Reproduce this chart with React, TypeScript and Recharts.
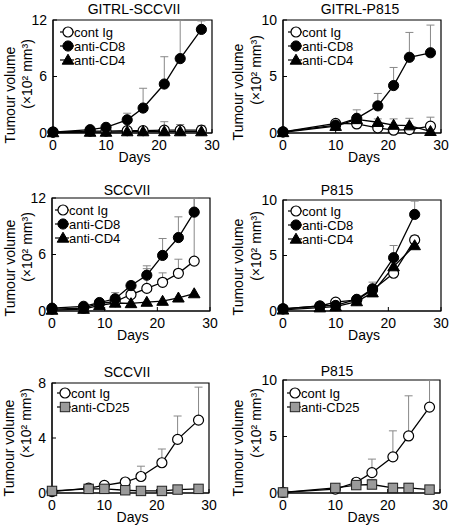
import { LineChart, Line, XAxis, YAxis, ErrorBar, ReferenceArea, Legend } from 'recharts';

const FONT = '"Liberation Sans", Arial, Helvetica, sans-serif';

// GITRL-SCCVII
const daysA = [0, 7, 10, 14, 17, 21, 24, 28];
const contA = [0.1, 0.2, 0.2, 0.25, 0.25, 0.3, 0.3, 0.3];
const contAErr = [0, 0, 0, 0, 0.2, 0.9, 0.6, 0.5];
const cd8A = [0.1, 0.35, 0.6, 1.4, 2.65, 5.2, 7.9, 11.0];
const cd8AErr = [0, 0, 0, 0.7, 2.1, 2.9, 4.1, 0.9];
const cd4A = [0.05, 0.1, 0.1, 0.15, 0.15, 0.15, 0.15, 0.15];
const cd4AErr = [0, 0, 0, 0, 0, 0.3, 0.3, 0.3];

// GITRL-P815
const daysB = [0, 10, 14, 18, 21, 24, 28];
const contB = [0.1, 0.85, 0.8, 0.45, 0.25, 0.3, 0.6];
const contBErr = [0, 0, 0, 0, 0, 0, 0.8];
const cd8B = [0.1, 0.7, 1.3, 2.4, 4.2, 6.7, 7.1];
const cd8BErr = [0, 0, 0.75, 1.1, 1.6, 2.2, 2.45];
const cd4B = [0.05, 0.6, 1.2, 0.95, 0.7, 0.65, 0.15];
const cd4BErr = [0, 0, 0, 0.3, 0.55, 0.65, 0];

// SCCVII (CD8 / CD4)
const daysC = [0, 6, 9, 12, 15, 18, 21, 24, 27];
const contC = [0.2, 0.3, 0.8, 1.0, 1.75, 2.4, 3.05, 4.0, 5.3];
const contCErr = [0, 0, 0, 0, 0.3, 2.1, 1.0, 1.5, 6.7];
const cd8C = [0.3, 0.5, 0.9, 1.3, 2.7, 3.8, 5.9, 7.8, 10.5];
const cd8CErr = [0, 0, 0, 0.65, 0.4, 1.0, 1.8, 2.2, 1.5];
const cd4C = [0.1, 0.2, 0.6, 0.85, 0.8, 0.95, 1.05, 1.4, 1.85];
const cd4CErr = [0, 0, 0, 0, 0, 0, 0, 0, 0];

// P815 (CD8 / CD4)
const daysD = [0, 7, 10, 14, 17, 21, 25];
const contD = [0.2, 0.45, 0.8, 1.0, 1.9, 3.4, 6.4];
const contDErr = [0, 0, 0, 0, 0.3, 0.3, 0.4];
const cd8D = [0.2, 0.45, 0.5, 1.05, 2.0, 4.8, 8.7];
const cd8DErr = [0, 0, 0, 0.2, 0.6, 1.1, 1.2];
const cd4D = [0.1, 0.3, 0.4, 0.85, 1.65, 4.0, 5.9];
const cd4DErr = [0, 0, 0, 0, 0, 0, 0];

// SCCVII (CD25)
const daysE = [0, 7, 10, 14, 17, 21, 24, 28];
const contE = [0.1, 0.35, 0.55, 0.8, 1.2, 2.2, 3.9, 5.3];
const contEErr = [0, 0, 0, 0.25, 0.75, 1.0, 1.7, 2.4];
const cd25E = [0.15, 0.3, 0.3, 0.2, 0.15, 0.15, 0.25, 0.3];
const cd25EErr = [0, 0.1, 0.1, 0.1, 0.1, 0.1, 0.2, 0.2];

// P815 (CD25)
const daysF = [0, 10, 14, 17, 21, 24, 28];
const contF = [0.05, 0.35, 0.95, 1.8, 3.2, 5.05, 7.6];
const contFErr = [0, 0, 0, 1.2, 2.3, 3.55, 2.4];
const cd25F = [0.05, 0.45, 0.7, 0.75, 0.45, 0.45, 0.3];
const cd25FErr = [0, 0, 0.2, 0.45, 0.4, 0.4, 0];

const xTicks = [0, 10, 20, 30];

type Marker = 'open' | 'filled' | 'triangle' | 'square';

const drawMarker = (m: Marker, cx: number, cy: number, key?: any) => {
  if (m === 'open') return <circle key={key} cx={cx} cy={cy} r={5} fill="#fff" stroke="#000" strokeWidth={1.2} />;
  if (m === 'filled') return <circle key={key} cx={cx} cy={cy} r={5.1} fill="#000" stroke="#000" />;
  if (m === 'triangle')
    return <polygon key={key} points={`${cx},${cy - 5.8} ${cx - 5.8},${cy + 4.2} ${cx + 5.8},${cy + 4.2}`} fill="#000" stroke="#000" />;
  return <rect key={key} x={cx - 4.7} y={cy - 4.7} width={9.4} height={9.4} fill="#9a9a9a" stroke="#222" strokeWidth={1} />;
};

const dotFor = (m: Marker) => (p: any) => {
  if (p.cx == null || p.cy == null) return <g key={p.key} />;
  return drawMarker(m, p.cx, p.cy, p.key);
};

function rows(days: number[], series: { key: string; v: number[]; e: number[] }[]) {
  return days.map((d, i) => {
    const r: any = { day: d };
    series.forEach((s) => {
      r[s.key] = s.v[i];
      r[s.key + 'Err'] = s.e[i] ? [0, s.e[i]] : null;
    });
    return r;
  });
}

const S_CONT = { key: 'cont', name: 'cont Ig', marker: 'open' as Marker };
const S_CD8 = { key: 'cd8', name: 'anti-CD8', marker: 'filled' as Marker };
const S_CD4 = { key: 'cd4', name: 'anti-CD4', marker: 'triangle' as Marker };
const S_CD25 = { key: 'cd25', name: 'anti-CD25', marker: 'square' as Marker };

const panels = [
  {
    title: 'GITRL-SCCVII', cell: [0, 0, 225, 175], plot: [53, 212, 20, 133], yMax: 12, yTicks: [0, 6, 12],
    titlePos: [134, 9], lab1: [10, 95], lab2: [27, 74], legend: [60, 25],
    series: [S_CONT, S_CD8, S_CD4],
    data: rows(daysA, [{ key: 'cont', v: contA, e: contAErr }, { key: 'cd8', v: cd8A, e: cd8AErr }, { key: 'cd4', v: cd4A, e: cd4AErr }]),
  },
  {
    title: 'GITRL-P815', cell: [225, 0, 225, 175], plot: [283, 441, 20, 133], yMax: 10, yTicks: [0, 5, 10],
    titlePos: [360, 9], lab1: [238, 92], lab2: [256, 70], legend: [288, 25],
    series: [S_CONT, S_CD8, S_CD4],
    data: rows(daysB, [{ key: 'cont', v: contB, e: contBErr }, { key: 'cd8', v: cd8B, e: cd8BErr }, { key: 'cd4', v: cd4B, e: cd4BErr }]),
  },
  {
    title: 'SCCVII', cell: [0, 175, 225, 175], plot: [52, 210, 198, 311], yMax: 12, yTicks: [0, 6, 12],
    titlePos: [127, 190], lab1: [10, 268], lab2: [27, 247], legend: [55, 203],
    series: [S_CONT, S_CD8, S_CD4],
    data: rows(daysC, [{ key: 'cont', v: contC, e: contCErr }, { key: 'cd8', v: cd8C, e: cd8CErr }, { key: 'cd4', v: cd4C, e: cd4CErr }]),
  },
  {
    title: 'P815', cell: [225, 175, 225, 175], plot: [283, 441, 200, 311], yMax: 10, yTicks: [0, 5, 10],
    titlePos: [337, 190], lab1: [238, 267], lab2: [256, 246], legend: [288, 204],
    series: [S_CONT, S_CD8, S_CD4],
    data: rows(daysD, [{ key: 'cont', v: contD, e: contDErr }, { key: 'cd8', v: cd8D, e: cd8DErr }, { key: 'cd4', v: cd4D, e: cd4DErr }]),
  },
  {
    title: 'SCCVII', cell: [0, 350, 225, 178], plot: [52, 209, 383, 493], yMax: 8, yTicks: [0, 4, 8],
    titlePos: [127, 372], lab1: [9, 448], lab2: [26, 423], legend: [57, 386],
    series: [S_CONT, S_CD25],
    data: rows(daysE, [{ key: 'cont', v: contE, e: contEErr }, { key: 'cd25', v: cd25E, e: cd25EErr }]),
  },
  {
    title: 'P815', cell: [225, 350, 225, 178], plot: [283, 440, 380, 493], yMax: 10, yTicks: [0, 5, 10],
    titlePos: [337, 371], lab1: [238, 448], lab2: [256, 423], legend: [287, 386],
    series: [S_CONT, S_CD25],
    data: rows(daysF, [{ key: 'cont', v: contF, e: contFErr }, { key: 'cd25', v: cd25F, e: cd25FErr }]),
  },
];

function Panel({ cfg }: { cfg: any }) {
  const [cx, cy, w, h] = cfg.cell;
  const [L, R, T, B] = cfg.plot;
  const tickStyle = { fill: '#000', fontSize: 14, fontFamily: FONT };

  const yLabel = () => (
    <g fontFamily={FONT} fontSize={14} fill="#000">
      <text x={cfg.lab1[0] - cx} y={cfg.lab1[1] - cy} dy="0.35em" textAnchor="middle"
        transform={`rotate(-90, ${cfg.lab1[0] - cx}, ${cfg.lab1[1] - cy})`}>Tumour volume</text>
      <text x={cfg.lab2[0] - cx} y={cfg.lab2[1] - cy} dy="0.35em" textAnchor="middle"
        transform={`rotate(-90, ${cfg.lab2[0] - cx}, ${cfg.lab2[1] - cy})`}>(×10² mm³)</text>
    </g>
  );

  const xLabel = (p: any) => {
    const vb = p.viewBox || {};
    return (
      <text x={vb.x + vb.width / 2 + 2} y={vb.y + 24} dy="0.35em" textAnchor="middle"
        fontFamily={FONT} fontSize={14} fill="#000">Days</text>
    );
  };

  const legend = () => (
    <div style={{ fontFamily: FONT, fontSize: 13, color: '#000' }}>
      {cfg.series.map((s: any) => (
        <div key={s.key} style={{ display: 'flex', alignItems: 'center', height: 14, whiteSpace: 'nowrap' }}>
          <svg width={14} height={14} style={{ display: 'block' }}>
            <line x1={0} y1={7} x2={14} y2={7} stroke="#000" strokeWidth={1.2} />
            {drawMarker(s.marker, 8, 7)}
          </svg>
          <span>{s.name}</span>
        </div>
      ))}
    </div>
  );

  return (
    <div style={{ position: 'absolute', left: cx, top: cy, width: w, height: h }}>
      <div style={{
        position: 'absolute', left: cfg.titlePos[0] - cx, top: cfg.titlePos[1] - cy,
        transform: 'translate(-50%, -50%)', fontFamily: FONT, fontSize: 14, whiteSpace: 'nowrap', zIndex: 2,
      }}>{cfg.title}</div>
      <LineChart width={w} height={h} data={cfg.data}
        margin={{ top: T - cy, right: cx + w - R, left: 0, bottom: 0 }}>
        <XAxis type="number" dataKey="day" domain={[0, 30]} ticks={xTicks}
          height={cy + h - B} tickSize={-4} tickMargin={11} tick={tickStyle} stroke="#000"
          label={xLabel} />
        <YAxis type="number" domain={[0, cfg.yMax]} ticks={cfg.yTicks}
          width={L - cx} tickSize={-4} tickMargin={10} tick={tickStyle} stroke="#000"
          label={yLabel} />
        <ReferenceArea x1={0} x2={30} y1={0} y2={cfg.yMax} fill="none" stroke="#000" strokeWidth={1.2} />
        {cfg.series.map((s: any) => (
          <Line key={s.key} type="linear" dataKey={s.key} stroke="#000" strokeWidth={1.3}
            dot={dotFor(s.marker)} activeDot={false} isAnimationActive={false}>
            <ErrorBar dataKey={s.key + 'Err'} direction="y" width={4} stroke="#888" strokeWidth={1} />
          </Line>
        ))}
        <Legend layout="vertical" align="center" verticalAlign="middle" content={legend}
          wrapperStyle={{ left: cfg.legend[0] - cx, top: cfg.legend[1] - cy, width: 'auto' }} />
      </LineChart>
    </div>
  );
}

export default function App() {
  return (
    <div style={{ position: 'absolute', left: 0, top: 0, width: 450, height: 528, background: '#fff' }}>
      {panels.map((p, i) => <Panel key={i} cfg={p} />)}
    </div>
  );
}
